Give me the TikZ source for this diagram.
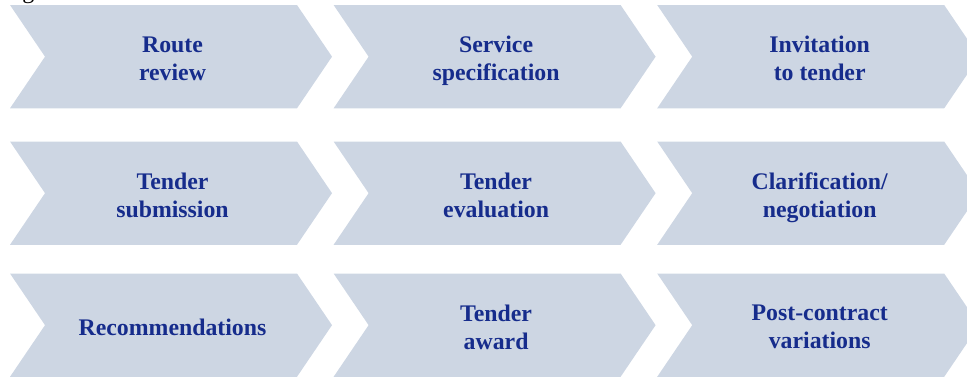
\documentclass[tikz,border=0pt]{standalone}
\usepackage{fontspec}
\setmainfont{Liberation Serif}
\definecolor{chevfill}{RGB}{205,214,227}
\definecolor{chevtext}{RGB}{22,44,140}
\begin{document}
\begin{tikzpicture}[x=1pt,y=-1pt,
  stage/.style={fill=chevfill,draw=none},
  stagetext/.style={align=center,inner sep=0pt,text depth=0pt,text=chevtext,
    font=\bfseries\fontsize{23.8}{28}\selectfont},
  captext/.style={anchor=base,inner sep=0pt,text=black,
    font=\fontsize{24}{28}\selectfont}]
\useasboundingbox (0,0) rectangle (967,376);
\clip (0,0) rectangle (967,376);
% descender of the caption line above the figure
\node[captext] (caption) at (28.5,-1.5) {g};
% three rows of chevron-shaped process stages
\foreach \r/\c/\n/\t in {
  0/0/route/{Route\\review},
  0/1/spec/{Service\\specification},
  0/2/invite/{Invitation\\to tender},
  1/0/submit/{Tender\\submission},
  1/1/evaluate/{Tender\\evaluation},
  1/2/clarify/{Clarification/\\negotiation},
  2/0/recommend/{Recommendations},
  2/1/award/{Tender\\award},
  2/2/variations/{Post-contract\\variations}}{
  \pgfmathsetmacro\L{10+323.6*\c}
  \pgfmathsetmacro\T{{5,141.5,273.5}[\r]}
  \path[stage] (\L,\T) -- ++(287,0) -- ++(35,51.65) -- ++(-35,51.65)
    -- ++(-287,0) -- ++(35,-51.65) -- cycle;
  \node[stagetext] (\n) at (\L+162.5,\T+53.5) {\t};
}
\end{tikzpicture}
\end{document}
